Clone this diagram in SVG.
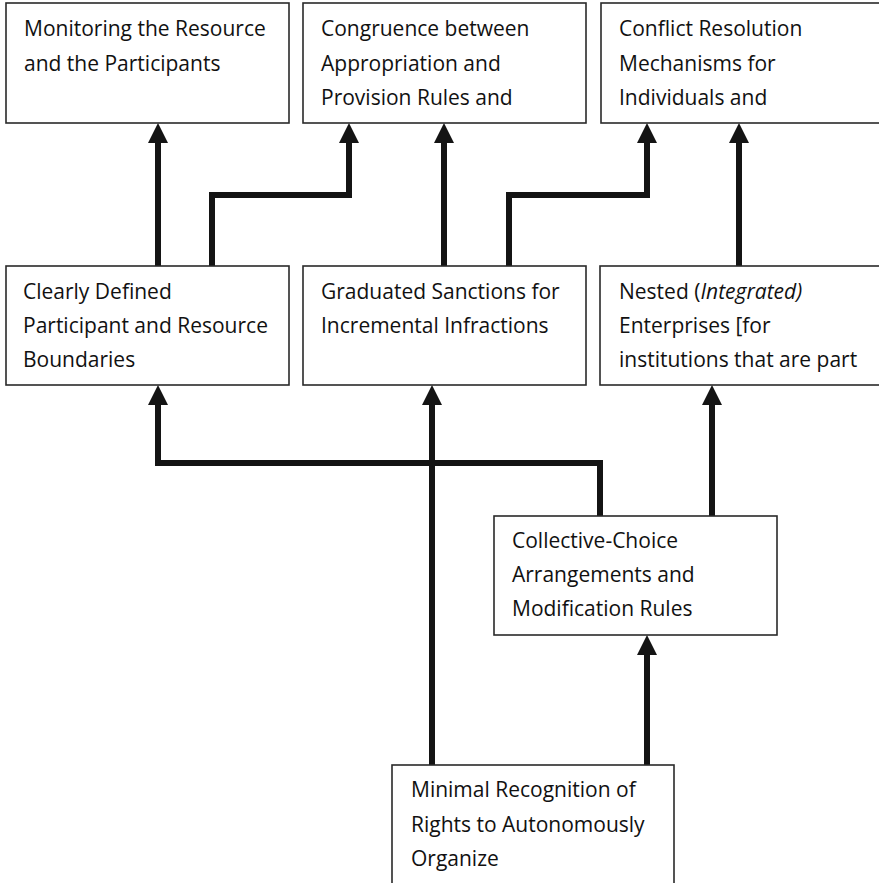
<svg xmlns="http://www.w3.org/2000/svg" width="879" height="883" viewBox="0 0 879 883">
  <style>
    .box { fill: #ffffff; stroke: #2a2a2a; stroke-width: 1.6; }
    .label { font-family: "Open Sans", "Liberation Sans", sans-serif; font-size: 21px; fill: #111111; }
    .link { fill: none; stroke: #141414; stroke-width: 6; stroke-linejoin: miter; stroke-linecap: butt; }
  </style>
  <defs>
    <marker id="head" markerUnits="userSpaceOnUse" viewBox="0 0 20 20" markerWidth="20" markerHeight="20" refX="2" refY="10" orient="auto">
      <path d="M0,0 L20,10 L0,20 Z" fill="#141414"/>
    </marker>
  </defs>

  <rect width="879" height="883" fill="#ffffff"/>

  <!-- connectors -->
  <g id="connectors">
    <path class="link" marker-end="url(#head)" d="M158,266 V141"/>
    <path class="link" marker-end="url(#head)" d="M212,266 V195 H349 V141"/>
    <path class="link" marker-end="url(#head)" d="M444,266 V141"/>
    <path class="link" marker-end="url(#head)" d="M509,266 V195 H647 V141"/>
    <path class="link" marker-end="url(#head)" d="M739,266 V141"/>
    <path class="link" marker-end="url(#head)" d="M600,516 V463 H158 V403"/>
    <path class="link" marker-end="url(#head)" d="M432,765 V403"/>
    <path class="link" marker-end="url(#head)" d="M712,516 V403"/>
    <path class="link" marker-end="url(#head)" d="M647,765 V653"/>
  </g>

  <!-- top row -->
  <g id="monitoring">
    <rect class="box" x="6" y="3" width="283" height="120"/>
    <text class="label" x="24" y="36">Monitoring the Resource</text>
    <text class="label" x="24" y="71">and the Participants</text>
  </g>
  <g id="congruence">
    <rect class="box" x="303" y="3" width="283" height="120"/>
    <text class="label" x="321" y="36">Congruence between</text>
    <text class="label" x="321" y="71">Appropriation and</text>
    <text class="label" x="321" y="105">Provision Rules and</text>
  </g>
  <g id="conflict-resolution">
    <rect class="box" x="601" y="3" width="290" height="120"/>
    <text class="label" x="619" y="36">Conflict Resolution</text>
    <text class="label" x="619" y="71">Mechanisms for</text>
    <text class="label" x="619" y="105">Individuals and</text>
  </g>

  <!-- middle row -->
  <g id="boundaries">
    <rect class="box" x="6" y="266" width="283" height="119"/>
    <text class="label" x="23" y="299">Clearly Defined</text>
    <text class="label" x="23" y="333">Participant and Resource</text>
    <text class="label" x="23" y="367">Boundaries</text>
  </g>
  <g id="sanctions">
    <rect class="box" x="303" y="266" width="283" height="119"/>
    <text class="label" x="321" y="299">Graduated Sanctions for</text>
    <text class="label" x="321" y="333">Incremental Infractions</text>
  </g>
  <g id="nested-enterprises">
    <rect class="box" x="600" y="266" width="291" height="119"/>
    <text class="label" x="619" y="299">Nested (<tspan font-style="italic">Integrated)</tspan></text>
    <text class="label" x="619" y="333">Enterprises [for</text>
    <text class="label" x="619" y="367">institutions that are part</text>
  </g>

  <!-- collective choice -->
  <g id="collective-choice">
    <rect class="box" x="494" y="516" width="283" height="119"/>
    <text class="label" x="512" y="548">Collective-Choice</text>
    <text class="label" x="512" y="582">Arrangements and</text>
    <text class="label" x="512" y="616">Modification Rules</text>
  </g>

  <!-- bottom -->
  <g id="minimal-recognition">
    <rect class="box" x="392" y="765" width="282" height="130"/>
    <text class="label" x="411" y="797">Minimal Recognition of</text>
    <text class="label" x="411" y="832">Rights to Autonomously</text>
    <text class="label" x="411" y="866">Organize</text>
  </g>
</svg>
